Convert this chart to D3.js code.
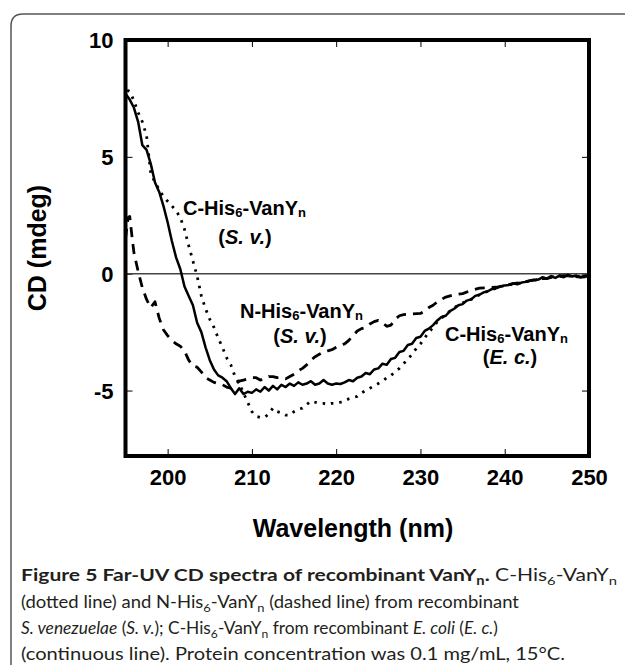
<!DOCTYPE html>
<html lang="en">
<head>
<meta charset="utf-8">
<title>Far-UV CD spectra</title>
<script src="https://cdn.jsdelivr.net/npm/d3@7"></script>
<style>
	body { margin: 0; background: #fff; }
	svg { display: block; }
</style>
</head>
<body>
<script>
	// solid line: C-His6-VanYn from E. coli
	const ecWave = [195,195.5,196,196.5,197,197.5,198,198.5,199,199.5,200,200.5,201,201.5,202,202.5,203,203.5,204,204.5,205,205.5,206,206.5,207,207.5,208,208.5,209,209.5,210,210.5,211,211.5,212,212.5,213,213.5,214,214.5,215,215.5,216,216.5,217,217.5,218,218.5,219,219.5,220,220.5,221,221.5,222,222.5,223,223.5,224,224.5,225,225.5,226,226.5,227,227.5,228,228.5,229,229.5,230,230.5,231,231.5,232,232.5,233,233.5,234,234.5,235,235.5,236,236.5,237,237.5,238,238.5,239,239.5,240,240.5,241,241.5,242,242.5,243,243.5,244,244.5,245,245.5,246,246.5,247,247.5,248,248.5,249,249.5,250];
	const ecCD = [7.7,7.45,7.1,6.5,5.5,5.3,4.7,3.9,3.5,2.9,2.2,1.4,0.7,0.2,-0.55,-0.95,-1.35,-2.1,-2.5,-3.15,-3.7,-4.1,-4.35,-4.45,-4.6,-4.9,-5.15,-4.9,-5.15,-5.05,-5.1,-4.95,-5.05,-4.85,-5.0,-4.8,-4.95,-4.75,-4.85,-4.7,-4.8,-4.65,-4.75,-4.7,-4.6,-4.75,-4.7,-4.55,-4.7,-4.75,-4.7,-4.72,-4.65,-4.55,-4.6,-4.45,-4.4,-4.25,-4.3,-4.1,-4.05,-3.85,-3.9,-3.65,-3.6,-3.35,-3.3,-3.05,-3.0,-2.75,-2.7,-2.45,-2.35,-2.2,-2.0,-1.85,-1.8,-1.6,-1.5,-1.35,-1.3,-1.15,-1.1,-0.95,-0.9,-0.8,-0.75,-0.65,-0.62,-0.55,-0.5,-0.48,-0.42,-0.45,-0.38,-0.35,-0.3,-0.28,-0.25,-0.15,-0.22,-0.1,-0.18,-0.08,-0.15,-0.05,-0.12,-0.08,-0.15,-0.1,-0.12];

	// dotted line: C-His6-VanYn from S. venezuelae
	const csvWave = [195.2,195.5,196,196.5,197,197.5,198,198.5,199,199.5,200,200.5,201,201.5,202,202.5,203,203.5,204,204.5,205,205.5,206,206.5,207,207.5,208,208.5,209,209.5,210,210.5,211,211.5,212,212.5,213,213.5,214,214.5,215,215.5,216,216.5,217,217.5,218,218.5,219,219.5,220,220.5,221,221.5,222,222.5,223,223.5,224,224.5,225,225.5,226,226.5,227,227.5,228,228.5,229,229.5,230,230.5,231,231.5,232,233,234,235,236,237,238,239,240,241,242,243,244,245,246,247,248,249,250];
	const csvCD = [7.85,7.8,7.4,6.9,6.5,5.9,4.3,3.9,3.6,3.3,3.1,2.9,2.7,2.4,1.9,1.2,0.55,-0.1,-0.95,-1.5,-1.95,-2.3,-2.75,-3.15,-3.6,-3.9,-4.4,-4.7,-5.1,-5.5,-5.9,-6.1,-6.15,-6.15,-6.0,-5.75,-5.9,-5.95,-6.05,-6.05,-5.9,-5.8,-5.75,-5.6,-5.45,-5.5,-5.55,-5.55,-5.6,-5.55,-5.55,-5.5,-5.45,-5.35,-5.3,-5.25,-5.1,-5.0,-4.9,-4.8,-4.7,-4.6,-4.45,-4.35,-4.2,-4.05,-3.85,-3.65,-3.45,-3.2,-3.0,-2.75,-2.5,-2.3,-2.05,-1.75,-1.45,-1.25,-1.1,-0.9,-0.75,-0.62,-0.5,-0.45,-0.38,-0.3,-0.25,-0.18,-0.12,-0.1,-0.1,-0.12,-0.1];

	// dashed line: N-His6-VanYn from S. venezuelae
	const nsvWave = [195,195.3,195.5,195.8,196,196.5,197,197.5,198,198.5,199,199.5,200,200.5,201,201.5,202,202.5,203,203.5,204,204.5,205,205.5,206,206.5,207,207.5,208,208.5,209,209.5,210,210.5,211,211.5,212,212.5,213,213.5,214,214.5,215,215.5,216,216.5,217,217.5,218,218.5,219,219.5,220,220.5,221,221.5,222,222.5,223,223.5,224,224.5,225,225.5,226,226.5,227,227.5,228,229,230,230.5,231,231.5,232,232.5,233,234,235,236,237,238,239,240,241,242,243,244,245,246,247,248,249,250];
	const nsvCD = [1.5,2.4,2.45,1.5,0.9,0.1,-0.6,-1.1,-1.45,-1.2,-1.9,-2.4,-2.65,-2.85,-3.0,-3.1,-3.3,-3.7,-3.95,-4.0,-4.2,-4.45,-4.55,-4.65,-4.7,-4.75,-4.85,-4.9,-4.75,-4.6,-4.55,-4.5,-4.45,-4.45,-4.55,-4.5,-4.4,-4.4,-4.45,-4.45,-4.5,-4.4,-4.3,-4.15,-4.05,-3.9,-3.7,-3.55,-3.45,-3.35,-3.3,-3.25,-3.15,-3.05,-3.0,-2.85,-2.65,-2.45,-2.35,-2.3,-2.15,-2.05,-2.0,-2.1,-2.25,-2.2,-1.95,-1.8,-1.75,-1.72,-1.7,-1.6,-1.45,-1.35,-1.2,-1.1,-1.0,-0.9,-0.85,-0.72,-0.62,-0.6,-0.58,-0.5,-0.42,-0.38,-0.3,-0.22,-0.2,-0.12,-0.08,-0.1,-0.15,-0.12];

	const xTicks = [200, 210, 220, 230, 240, 250];
	const yTicks = [10, 5, 0, -5];

	const W = 625, H = 665;
	const plot = { left: 125.5, right: 589, top: 40, bottom: 456 };

	const svg = d3.select("body").append("svg")
		.attr("width", W)
		.attr("height", H)
		.attr("viewBox", [0, 0, W, H]);

	// rounded outer border (only top-left corner is visible)
	svg.append("path")
		.attr("d", "M11,665 V26 Q11,14 23,14 H625")
		.attr("fill", "none")
		.attr("stroke", "#555")
		.attr("stroke-width", 1.5);

	const x = d3.scaleLinear().domain([195, 250]).range([plot.left, plot.right]);
	const y = d3.scaleLinear().domain([-7.8, 10]).range([plot.bottom, plot.top]);

	const axisFont = "bold 22px 'Liberation Sans', Arial, sans-serif";

	// bottom axis: inward ticks + labels
	const gx = svg.append("g")
		.attr("transform", `translate(0,${plot.bottom})`)
		.call(d3.axisBottom(x).tickValues(xTicks).tickSize(-7).tickPadding(8).tickFormat((d) => String(d)));
	// top axis: inward ticks only
	const gxt = svg.append("g")
		.attr("transform", `translate(0,${plot.top})`)
		.call(d3.axisTop(x).tickValues(xTicks).tickSize(-7).tickFormat(""));
	// left axis
	const gy = svg.append("g")
		.attr("transform", `translate(${plot.left},0)`)
		.call(d3.axisLeft(y).tickValues(yTicks).tickSize(-7).tickPadding(12).tickFormat((d) => String(d)));
	// right axis: inward ticks only
	const gyr = svg.append("g")
		.attr("transform", `translate(${plot.right},0)`)
		.call(d3.axisRight(y).tickValues(yTicks).tickSize(-7).tickFormat(""));

	[gx, gxt, gy, gyr].forEach((g) => {
		g.select(".domain").remove();
		g.selectAll(".tick line").attr("stroke", "#000").attr("stroke-width", 1);
		g.selectAll("text")
			.style("font", axisFont)
			.attr("fill", "#000");
	});
	gx.selectAll("text").attr("dy", "0.95em");
	gy.selectAll("text").attr("dy", "0.36em");

	// zero line
	svg.append("line")
		.attr("x1", plot.left).attr("x2", plot.right)
		.attr("y1", y(0)).attr("y2", y(0))
		.attr("stroke", "#444")
		.attr("stroke-width", 1.5);

	svg.append("clipPath").attr("id", "clip")
		.append("rect")
		.attr("x", plot.left).attr("y", plot.top)
		.attr("width", plot.right - plot.left)
		.attr("height", plot.bottom - plot.top);

	const line = d3.line()
		.x((d) => x(d[0]))
		.y((d) => y(d[1]));

	const series = [
		{ wave: csvWave, cd: csvCD, dash: "2.5,6", width: 2.8 },
		{ wave: nsvWave, cd: nsvCD, dash: "10,7", width: 2.8 },
		{ wave: ecWave, cd: ecCD, dash: null, width: 2.5 }
	];

	svg.append("g")
		.attr("clip-path", "url(#clip)")
		.selectAll("path")
		.data(series)
		.join("path")
		.attr("fill", "none")
		.attr("stroke", "#000")
		.attr("stroke-width", (d) => d.width)
		.attr("stroke-dasharray", (d) => d.dash)
		.attr("stroke-linejoin", "round")
		.attr("d", (d) => line(d.wave.map((w, i) => [w, d.cd[i]])));

	// frame
	svg.append("rect")
		.attr("x", plot.left).attr("y", plot.top)
		.attr("width", plot.right - plot.left)
		.attr("height", plot.bottom - plot.top)
		.attr("fill", "none")
		.attr("stroke", "#000")
		.attr("stroke-width", 4);

	// axis titles
	svg.append("text")
		.attr("x", 353).attr("y", 537)
		.attr("text-anchor", "middle")
		.style("font", "bold 25px 'Liberation Sans', Arial, sans-serif")
		.text("Wavelength (nm)");

	svg.append("text")
		.attr("transform", "translate(46,248) rotate(-90)")
		.attr("text-anchor", "middle")
		.style("font", "bold 25px 'Liberation Sans', Arial, sans-serif")
		.text("CD (mdeg)");

	// text with sub/italic/bold pieces
	function richText(g, parts) {
		parts.forEach((p) => {
			const t = g.append("tspan").text(p.t);
			if (p.b) t.attr("font-weight", "bold");
			if (p.i) t.attr("font-style", "italic");
			if (p.sub) t.attr("font-size", p.subSize || "65%").attr("dy", p.subDy || 2);
			if (p.back) t.attr("dy", -p.back);
		});
		return g;
	}

	const labelFont = "bold 20px 'Liberation Sans', Arial, sans-serif";
	function seriesLabel(xs, ys, xc, yc, org) {
		const t1 = svg.append("text").attr("x", xs).attr("y", ys).style("font", labelFont);
		richText(t1, [
			{ t: org.prefix + "-His" },
			{ t: "6", sub: true },
			{ t: "-VanY", back: 2 },
			{ t: "n", sub: true }
		]);
		const t2 = svg.append("text").attr("x", xc).attr("y", yc)
			.attr("text-anchor", "middle").style("font", labelFont);
		richText(t2, [{ t: "(" }, { t: org.name, i: true }, { t: ")" }]);
	}
	seriesLabel(183, 215, 245, 244, { prefix: "C", name: "S. v." });
	seriesLabel(240, 318, 300, 343, { prefix: "N", name: "S. v." });
	seriesLabel(445, 341, 510, 364, { prefix: "C", name: "E. c." });

	// caption
	const capFont = "17.5px Lato, 'Open Sans', sans-serif";
	const sub = { sub: true, subSize: "70%", subDy: 4 };
	const capLines = [
		{ y: 581, len: 596, parts: [
			{ t: "Figure 5 Far-UV CD spectra of recombinant VanY", b: true },
			{ t: "n", b: true, ...sub },
			{ t: ".", b: true, back: 4 },
			{ t: " C-His" },
			{ t: "6", ...sub },
			{ t: "-VanY", back: 4 },
			{ t: "n", ...sub }
		] },
		{ y: 608, len: 498, parts: [
			{ t: "(dotted line) and N-His" },
			{ t: "6", ...sub },
			{ t: "-VanY", back: 4 },
			{ t: "n", ...sub },
			{ t: " (dashed line) from recombinant", back: 4 }
		] },
		{ y: 634, len: 477, parts: [
			{ t: "S. venezuelae", i: true },
			{ t: " (" },
			{ t: "S. v.", i: true },
			{ t: "); C-His" },
			{ t: "6", ...sub },
			{ t: "-VanY", back: 4 },
			{ t: "n", ...sub },
			{ t: " from recombinant ", back: 4 },
			{ t: "E. coli", i: true },
			{ t: " (" },
			{ t: "E. c.", i: true },
			{ t: ")" }
		] },
		{ y: 660, len: 544, parts: [
			{ t: "(continuous line). Protein concentration was 0.1 mg/mL, 15°C." }
		] }
	];
	capLines.forEach((l) => {
		const t = svg.append("text")
			.attr("x", 21).attr("y", l.y)
			.attr("fill", "#231f20")
			.attr("textLength", l.len)
			.attr("lengthAdjust", "spacingAndGlyphs")
			.style("font", capFont);
		richText(t, l.parts);
	});
</script>
</body>
</html>
